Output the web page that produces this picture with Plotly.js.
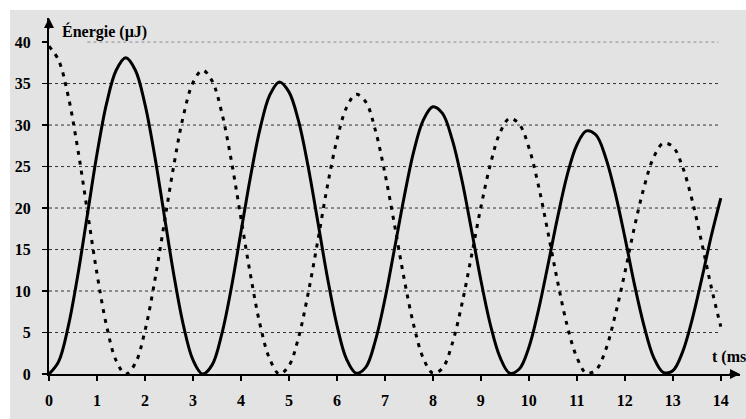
<!DOCTYPE html>
<html><head><meta charset="utf-8">
<script src="https://cdn.plot.ly/plotly-3.0.1.min.js"></script>
<style>html,body{margin:0;padding:0;background:#fff;overflow:hidden;width:746px;height:419px}
#c{position:absolute;left:10px;top:10px;width:736px;height:409px}</style>
</head><body><div id="c"></div>
<script>
// time (ms), step 0.2
const t = [0,0.2,0.4,0.6,0.8,1,1.2,1.4,1.6,1.8,2,2.2,2.4,2.6,2.8,3,3.2,3.4,3.6,3.8,4,4.2,4.4,4.6,4.8,5,5.2,5.4,5.6,5.8,6,6.2,6.4,6.6,6.8,7,7.2,7.4,7.6,7.8,8,8.2,8.4,8.6,8.8,9,9.2,9.4,9.6,9.8,10,10.2,10.4,10.6,10.8,11,11.2,11.4,11.6,11.8,12,12.2,12.4,12.6,12.8,13,13.2,13.4,13.6,13.8,14];
// solid curve (µJ)
const solid = [0,1.5,5.7,11.9,19.2,26.5,32.6,36.6,38.1,36.6,32.5,26.4,19.2,12.0,5.9,1.7,0,1.1,4.8,10.4,17.1,23.8,29.6,33.6,35.2,34.0,30.5,25.0,18.4,11.7,5.9,1.8,0.1,0.8,4.0,9.0,15.1,21.3,26.8,30.6,32.2,31.4,28.3,23.5,17.5,11.3,5.9,2.0,0.1,0.6,3.2,7.7,13.2,18.9,24.0,27.6,29.3,28.8,26.1,21.8,16.5,10.8,5.8,2.0,0.2,0.4,2.6,6.5,11.4,16.6,21.2];
// dotted curve (µJ)
const dashed = [39.5,37.8,33.5,27.1,19.6,12.1,5.8,1.6,0,1.3,5.2,11.1,18.1,25.1,31.1,35.1,36.6,35.3,31.5,25.7,18.8,11.9,5.9,1.8,0,1.0,4.4,9.7,16.0,22.6,28.2,32.1,33.7,32.8,29.4,24.2,18.0,11.5,5.9,1.9,0.1,0.7,3.6,8.3,14.1,20.1,25.3,29.1,30.8,30.1,27.3,22.7,17.0,11.1,5.8,2.0,0.1,0.5,2.9,7.1,12.2,17.7,22.5,26.1,27.8,27.4,25.0,21.0,15.9,10.5,5.7];
const xTicks = [0,1,2,3,4,5,6,7,8,9,10,11,12,13,14];
const yTicks = [0,5,10,15,20,25,30,35,40];

const fam = 'Liberation Serif';
const tf = {family:fam, size:16, color:'#000', weight:700};

const shapes = yTicks.filter(v => v > 0).map(v => ({
  type:'line', xref:'x', yref:'y', x0: v===40 ? 0.8 : 0, x1: 13.95, y0: v, y1: v,
  line:{color: v===40 ? '#8a8a9a' : '#333', width:1, dash:'dot'}, layer:'below'
}));

const traces = [
  {x:t, y:dashed, mode:'lines', line:{color:'#000', width:3, dash:'4px,6px', shape:'spline'}, hoverinfo:'skip'},
  {x:t, y:solid, mode:'lines', line:{color:'#000', width:3, shape:'spline'}, hoverinfo:'skip'}
];

const layout = {
  width:736, height:409,
  margin:{l:39, r:6, t:8, b:45},
  paper_bgcolor:'#e3e3e3', plot_bgcolor:'rgba(0,0,0,0)',
  showlegend:false,
  font:{family:fam, size:16, color:'#000'},
  xaxis:{range:[0,14.4], tickvals:xTicks, ticktext:xTicks.map(String), showgrid:false, zeroline:false,
    showline:true, linecolor:'#000', linewidth:2, ticks:'outside', ticklen:5, tickwidth:2, tickcolor:'#000',
    ticklabelstandoff:6, tickfont:tf},
  yaxis:{range:[0,42.9], tickvals:yTicks, ticktext:yTicks.map(String), showgrid:false, zeroline:false,
    showline:true, linecolor:'#000', linewidth:2, ticks:'outside', ticklen:5, tickwidth:1.5, tickcolor:'#000',
    ticklabelstandoff:8, tickfont:tf},
  shapes:shapes,
  annotations:[
    {xref:'x', yref:'y', x:0, y:42.9, ax:0, ay:12, showarrow:true, arrowhead:2, arrowsize:1, arrowwidth:2, arrowcolor:'#000', text:''},
    {xref:'x', yref:'y', x:14.4, y:0, ax:-12, ay:0, showarrow:true, arrowhead:2, arrowsize:1, arrowwidth:2, arrowcolor:'#000', text:''},
    {xref:'x', yref:'y', x:0, y:40, xanchor:'left', yanchor:'middle', xshift:11, yshift:11, showarrow:false,
      text:'Énergie (µJ)', font:tf},
    {xref:'x', yref:'y', x:13.77, y:0, xanchor:'left', yanchor:'bottom', yshift:6, showarrow:false,
      text:'t (ms)', font:tf}
  ]
};
Plotly.newPlot('c', traces, layout, {staticPlot:true, displayModeBar:false});
</script></body></html>
